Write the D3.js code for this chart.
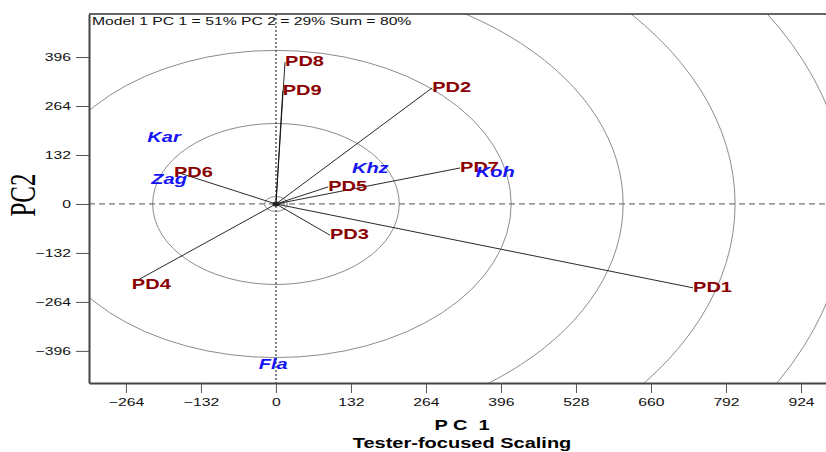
<!DOCTYPE html>
<html>
<head>
<meta charset="utf-8">
<script src="https://cdn.jsdelivr.net/npm/d3@7"></script>
<style>
  body { margin: 0; background: #fff; }
  svg { display: block; }
  text { font-family: Arial, "Liberation Sans", sans-serif; }
</style>
</head>
<body>
<svg id="chart" width="826" height="452"></svg>
<script>
// testers (vectors) and genotypes
const testers = ["PD1", "PD2", "PD3", "PD4", "PD5", "PD6", "PD7", "PD8", "PD9"];
const testerPC1 = [734, 275, 95, -243, 92, -169, 324, 16, 12];
const testerPC2 = [-226, 313, -84, -205, 46, 83, 97, 383, 305];

const genotypes = ["Kar", "Zag", "Khz", "Koh", "Fla"];
const genoPC1 = [-197, -188, 166, 386, -5];
const genoPC2 = [181, 67, 97, 86, -431];

const circleRadii = [20, 217, 414, 611, 808, 1005];

const xTicks = [-264, -132, 0, 132, 264, 396, 528, 660, 792, 924];
const yTicks = [-396, -264, -132, 0, 132, 264, 396];

const title = "Model 1 PC 1 = 51% PC 2 = 29% Sum = 80%";

// the picture is stretched sideways, so is the text
const SX = 1.43;

const svg = d3.select('#chart');
const plotLeft = 89, plotRight = 826, plotTop = 14, plotBottom = 383;

const x = d3.scaleLinear().domain([-329, 968]).range([plotLeft, plotRight]);
const y = d3.scaleLinear().domain([-482.5, 512]).range([plotBottom, plotTop]);

function stretched(sel, px, py, extra) {
	return sel.attr('transform', `translate(${px},${py}) scale(${SX},1)` + (extra || ''));
}

svg.append('clipPath').attr('id', 'plotclip')
	.append('rect')
	.attr('x', plotLeft).attr('y', plotTop)
	.attr('width', plotRight - plotLeft).attr('height', plotBottom - plotTop);

const plot = svg.append('g').attr('clip-path', 'url(#plotclip)');

// concentric circles (ellipses, since x and y scales differ)
plot.selectAll('ellipse.ring')
	.data(circleRadii)
	.join('ellipse')
	.attr('class', 'ring')
	.attr('cx', x(0)).attr('cy', y(0))
	.attr('rx', d => x(d) - x(0))
	.attr('ry', d => y(0) - y(d))
	.attr('fill', 'none')
	.attr('stroke', '#8c8c8c')
	.attr('stroke-width', 1);

// zero lines
plot.append('line')
	.attr('x1', plotLeft).attr('x2', plotRight)
	.attr('y1', y(0)).attr('y2', y(0))
	.attr('stroke', '#777')
	.attr('stroke-width', 1.2)
	.attr('stroke-dasharray', '6,4');

plot.append('line')
	.attr('x1', x(0)).attr('x2', x(0))
	.attr('y1', plotTop).attr('y2', plotBottom)
	.attr('stroke', '#444')
	.attr('stroke-width', 1.3)
	.attr('stroke-dasharray', '2,2');

// tester vectors
const idx = d3.range(testers.length);
plot.selectAll('line.vec')
	.data(idx)
	.join('line')
	.attr('class', 'vec')
	.attr('x1', x(0)).attr('y1', y(0))
	.attr('x2', i => x(testerPC1[i]))
	.attr('y2', i => y(testerPC2[i]))
	.attr('stroke', '#111')
	.attr('stroke-width', 0.9);

plot.append('ellipse')
	.attr('cx', x(0)).attr('cy', y(0))
	.attr('rx', 3.5).attr('ry', 2.5)
	.attr('fill', '#222');

// tester labels
plot.selectAll('text.tester')
	.data(idx)
	.join('text')
	.attr('class', 'tester')
	.each(function(i) {
		const px = x(testerPC1[i]) + (testerPC1[i] < 0 ? -6 : 0);
		const py = y(testerPC2[i]) + (testerPC1[i] < 0 && testerPC2[i] < 0 ? 4 : -1);
		stretched(d3.select(this), px, py);
	})
	.attr('dominant-baseline', 'central')
	.attr('font-size', 14)
	.attr('font-weight', 'bold')
	.attr('fill', '#8b0000')
	.text(i => testers[i]);

// genotype labels
plot.selectAll('text.geno')
	.data(d3.range(genotypes.length))
	.join('text')
	.attr('class', 'geno')
	.each(function(i) {
		stretched(d3.select(this), x(genoPC1[i]), y(genoPC2[i]));
	})
	.attr('text-anchor', 'middle')
	.attr('dominant-baseline', 'central')
	.attr('font-size', 14)
	.attr('font-weight', 'bold')
	.attr('font-style', 'italic')
	.attr('fill', '#1414f5')
	.text(i => genotypes[i]);

// frame
svg.append('line')
	.attr('x1', plotLeft).attr('x2', plotRight)
	.attr('y1', plotTop).attr('y2', plotTop)
	.attr('stroke', '#333').attr('stroke-width', 1.5);

// axes
const xAxis = svg.append('g')
	.attr('transform', `translate(0,${plotBottom})`)
	.call(d3.axisBottom(x).tickValues(xTicks).tickSize(10).tickPadding(3).tickSizeOuter(0));
const yAxis = svg.append('g')
	.attr('transform', `translate(${plotLeft},0)`)
	.call(d3.axisLeft(y).tickValues(yTicks).tickSize(13).tickPadding(4).tickSizeOuter(0));

[xAxis, yAxis].forEach(g => {
	g.select('.domain').attr('stroke', '#444').attr('stroke-width', 2);
	g.selectAll('.tick line').attr('stroke', '#555').attr('stroke-width', 1);
	g.selectAll('.tick text')
		.attr('font-family', 'Arial, "Liberation Sans", sans-serif')
		.attr('font-size', 11)
		.attr('fill', '#111');
});

// stretch tick labels about their anchor
xAxis.selectAll('.tick text').each(function() {
	d3.select(this).attr('dy', null).attr('y', null)
		.attr('dominant-baseline', 'central')
		.attr('transform', `translate(0,19) scale(${SX},1)`);
});
yAxis.selectAll('.tick text').each(function() {
	d3.select(this).attr('x', null).attr('dy', null)
		.attr('dominant-baseline', 'central')
		.attr('transform', `translate(-18,0) scale(${SX},1)`);
});

// title inside plot
stretched(svg.append('text'), plotLeft + 3, plotTop + 11)
	.attr('font-size', 11)
	.attr('fill', '#111')
	.text(title);

// axis titles
stretched(svg.append('text'), 23, 195, ' rotate(-90)')
	.attr('text-anchor', 'middle')
	.attr('dominant-baseline', 'central')
	.style('font-family', '"Liberation Serif", "Times New Roman", serif')
	.attr('font-size', 25)
	.text('PC2');

stretched(svg.append('text'), 462, 430)
	.attr('text-anchor', 'middle')
	.attr('font-size', 14)
	.attr('font-weight', 'bold')
	.style('white-space', 'pre')
	.text('P C  1');

stretched(svg.append('text'), 462, 448)
	.attr('text-anchor', 'middle')
	.attr('font-size', 14)
	.attr('font-weight', 'bold')
	.text('Tester-focused Scaling');
</script>
</body>
</html>
